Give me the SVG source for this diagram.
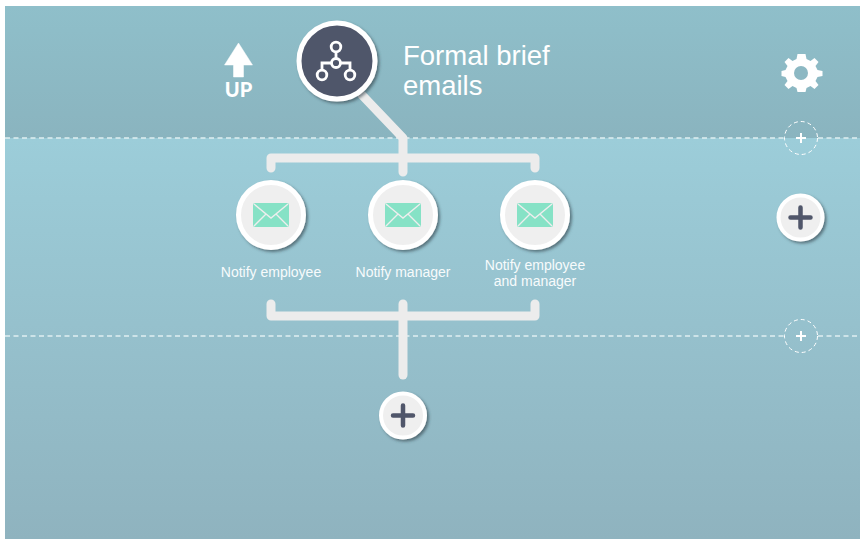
<svg xmlns="http://www.w3.org/2000/svg" width="867" height="544" viewBox="0 0 867 544">
<defs>
<linearGradient id="top" x1="0" y1="0" x2="0" y2="1"><stop offset="0" stop-color="#8fbfca"/><stop offset="1" stop-color="#8ab4bf"/></linearGradient>
<linearGradient id="bot" x1="0" y1="0" x2="0" y2="1"><stop offset="0" stop-color="#9ccdd9"/><stop offset="1" stop-color="#8fb3bf"/></linearGradient>
<filter id="sh" x="-30%" y="-30%" width="170%" height="170%"><feDropShadow dx="2" dy="2" stdDeviation="1.5" flood-color="#2c3e45" flood-opacity="0.6"/></filter>
<g id="mail"><rect x="-18" y="-12" width="36" height="24" rx="2" fill="#86e2c6"/><path d="M-17-11L0 3 17-11M-17 11L-5-1M17 11L5-1" fill="none" stroke="#eeeeee" stroke-width="1.400"/></g>
<g id="bigplus"><circle r="22" fill="#efefef" stroke="#fff" stroke-width="4" filter="url(#sh)"/><path d="M-10 0H10M0-10V10" stroke="#50566a" stroke-width="4.500" stroke-linecap="round"/></g>
<g id="smallplus"><circle r="16.500" fill="none" stroke="#fff" stroke-width="1" stroke-dasharray="4 3"/><path d="M-5 0H5M0-5V5" stroke="#fff" stroke-width="2"/></g>
</defs>
<style>
.lane{stroke:#dfeef1;stroke-width:1.300;stroke-dasharray:5 3.500;fill:none}
.conn{stroke:#ececec;stroke-width:9;fill:none;stroke-linecap:round;stroke-linejoin:round}
.node{fill:#efefef;stroke:#fff;stroke-width:5;filter:url(#sh)}
.lbl{font-family:"Liberation Sans",Arial,sans-serif;font-size:14px;fill:#f7fbfc;text-anchor:middle}
.ttl{font-family:"Liberation Sans",Arial,sans-serif;font-size:27.500px;fill:#fff}
</style>
<rect width="867" height="544" fill="#fff"/>
<rect x="5" y="6" width="855" height="132" fill="url(#top)"/>
<rect x="5" y="138" width="855" height="401" fill="url(#bot)"/>
<path class="lane" d="M5 138H784M818 138H857"/>
<path class="lane" d="M5 336H784M818 336H857"/>
<g id="connectors">
<path class="conn" d="M362 95L403 138V172"/>
<path class="conn" d="M271 168V158H535V168"/>
<path class="conn" d="M271 304V316H535V304"/>
<path class="conn" d="M403 304V375"/>
</g>
<g id="up"><path d="M238.500 43L252.500 65H243.500V77H233.500V65H224.500Z" fill="#fff" stroke="#fff" stroke-width="0.500" stroke-linejoin="round"/><text x="238.500" y="97" font-family="Lato,'Liberation Sans',sans-serif" font-size="20" font-weight="900" fill="#fff" text-anchor="middle">UP</text></g>
<g id="root">
<circle cx="337" cy="61" r="38" fill="#50566a" stroke="#fff" stroke-width="5" filter="url(#sh)"/>
<g fill="none" stroke="#fff" stroke-width="2.800"><circle cx="336" cy="47" r="4.800"/><circle cx="336" cy="63" r="4.500"/><circle cx="322" cy="75" r="4.800"/><circle cx="350" cy="75" r="4.800"/><path d="M336 52V58.500M331.500 63H322V70M340.500 63H350V70"/></g>
<text class="ttl" x="403" y="65">Formal brief</text><text class="ttl" x="403" y="95">emails</text>
</g>
<g id="settings"><path d="M801 54L806 54 807 59 811 61 815 58 819 62 816 66 818 70 823 71 823 76 818 77 816 81 819 85 815 89 811 86 807 88 806 92H798L797 88 793 86 789 89 785 85 788 81 786 77 782 76V71L786 70 788 66 785 62 789 58 793 61 797 59 798 54Z" fill="#fff" fill-rule="evenodd" transform="translate(-0.500 0)"/><circle cx="801" cy="73" r="7" fill="#8cb8c3"/></g>
<g id="n1"><circle class="node" cx="271" cy="215" r="32.500"/><use href="#mail" x="271" y="215"/><text class="lbl" x="271" y="277">Notify employee</text></g>
<g id="n2"><circle class="node" cx="403" cy="215" r="32.500"/><use href="#mail" x="403" y="215"/><text class="lbl" x="403" y="277">Notify manager</text></g>
<g id="n3"><circle class="node" cx="535" cy="215" r="32.500"/><use href="#mail" x="535" y="215"/><text class="lbl" x="535" y="270">Notify employee</text><text class="lbl" x="535" y="286">and manager</text></g>
<g id="add-side"><use href="#bigplus" x="800.500" y="217.500"/></g>
<g id="add-bottom"><use href="#bigplus" x="403" y="415.500"/></g>
<g id="add-lane1"><use href="#smallplus" x="801" y="138"/></g>
<g id="add-lane2"><use href="#smallplus" x="801" y="336"/></g>
</svg>
